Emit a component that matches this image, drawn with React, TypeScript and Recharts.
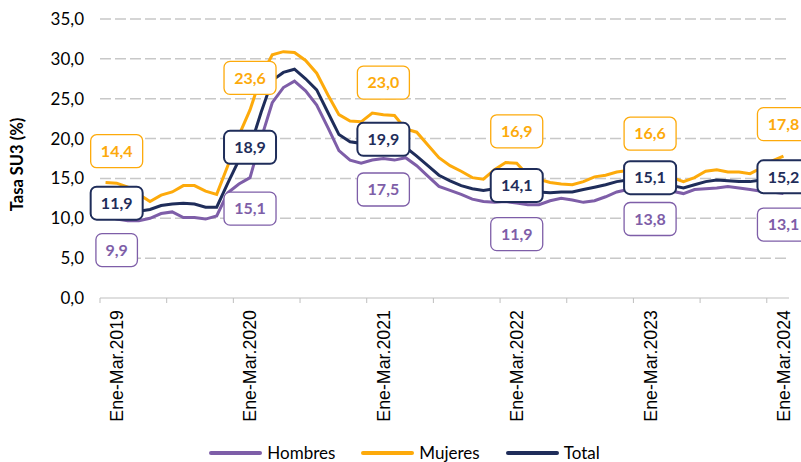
import React from 'react';
import { LineChart, Line, XAxis, YAxis, CartesianGrid, LabelList, Label } from 'recharts';

// Trimestres móviles: índice 0 = Dic-Feb.2019, índice 1 = Ene-Mar.2019 ... índice 61 = Ene-Mar.2024
const TICK_LABELS = ['Ene-Mar.2019', 'Ene-Mar.2020', 'Ene-Mar.2021', 'Ene-Mar.2022', 'Ene-Mar.2023', 'Ene-Mar.2024'];
const LABEL_INDEX = [1, 13, 25, 37, 49, 61];
const BOUNDARY_TICKS = [-0.5, 5.5, 11.5, 17.5, 23.5, 29.5, 35.5, 41.5, 47.5, 53.5, 59.5];
const Y_TICKS = [0, 5, 10, 15, 20, 25, 30, 35];

const HOMBRES = [
    10.3, 9.9, 9.7, 9.7, 10.0, 10.6, 10.8, 10.1, 10.1, 9.9, 10.3, 13.2,
    14.3, 15.1, 20.0, 24.5, 26.4, 27.2, 26.0, 24.2, 21.4, 18.5, 17.3, 16.9,
    17.3, 17.5, 17.3, 17.6, 16.6, 15.3, 14.0, 13.5, 13.0, 12.4, 12.1, 12.0,
    12.1, 11.9, 11.7, 11.7, 12.2, 12.5, 12.3, 12.0, 12.2, 12.7, 13.3, 13.6,
    13.8, 13.8, 13.7, 13.4, 13.1, 13.6, 13.7, 13.8, 14.0, 13.8, 13.6, 13.4,
    13.3, 13.1,
];

const MUJERES = [
    14.5, 14.4, 13.9, 13.0, 12.1, 12.9, 13.3, 14.1, 14.1, 13.4, 13.0, 16.6,
    20.4, 23.6, 27.8, 30.5, 30.9, 30.8, 29.8, 28.2, 25.5, 23.0, 22.2, 22.1,
    23.2, 23.0, 22.9, 21.2, 20.8, 19.2, 17.6, 16.6, 15.9, 15.1, 14.9, 16.1,
    17.0, 16.9, 15.4, 14.9, 14.5, 14.3, 14.2, 14.6, 15.2, 15.4, 15.8, 16.0,
    16.3, 16.6, 16.0, 15.1, 14.6, 15.1, 15.9, 16.1, 15.8, 15.8, 15.6, 16.3,
    17.2, 17.8,
];

const TOTAL = [
    11.9, 11.9, 11.3, 10.9, 11.1, 11.6, 11.8, 11.9, 11.8, 11.4, 11.4, 14.4,
    17.3, 18.9, 23.3, 27.3, 28.3, 28.7, 27.5, 26.1, 23.3, 20.5, 19.6, 19.4,
    19.8, 19.9, 19.7, 18.9, 17.8, 16.6, 15.4, 14.7, 14.1, 13.7, 13.5, 13.7,
    14.0, 14.1, 13.6, 13.3, 13.2, 13.3, 13.3, 13.6, 13.9, 14.2, 14.6, 14.8,
    15.0, 15.1, 14.7, 14.1, 13.8, 14.2, 14.6, 14.8, 14.7, 14.6, 14.6, 14.8,
    15.0, 15.2,
];

const COLORS = {
    hombres: '#7e5ea8',
    mujeres: '#fdaa0b',
    total: '#1f2d5a',
};

const FONT = 'Lato, "Open Sans", sans-serif';

const data = TOTAL.map((_, i) => ({
    idx: i,
    hombres: HOMBRES[i],
    mujeres: MUJERES[i],
    total: TOTAL[i],
}));

const fmt = (v: number) => v.toFixed(1).replace('.', ',');

const AxisTick = (props: any) => {
    const { x, y, payload } = props;
    const v = payload.value as number;
    const labelPos = LABEL_INDEX.indexOf(v);
    if (labelPos === -1) {
        return <line x1={x} y1={y} x2={x} y2={y + 5} stroke="#bfbfbf" strokeWidth={1} />;
    }
    return (
        <text
            transform={`translate(${x},${y + 12}) rotate(-90)`}
            textAnchor="end"
            dy="0.36em"
            fontFamily='"Liberation Sans", Arial, sans-serif'
            fontSize={17.8}
            fill="#000"
        >
            {TICK_LABELS[labelPos]}
        </text>
    );
};

// caja redondeada con el valor; offset vertical respecto al punto
const makeBoxLabel = (color: string, offset: number, borderWidth: number) => (props: any) => {
    const { x, y, value, index } = props;
    if (!LABEL_INDEX.includes(index)) return null;
    const text = fmt(value);
    const w = 10 + text.length * 10.5;
    const h = 33;
    const cy = y + offset;
    return (
        <g>
            <rect
                x={x - w / 2}
                y={cy - h / 2}
                width={w}
                height={h}
                rx={6}
                ry={6}
                fill="#fff"
                stroke={color}
                strokeWidth={borderWidth}
            />
            <text
                x={x}
                y={cy}
                dy="0.36em"
                textAnchor="middle"
                fontFamily={FONT}
                fontWeight={700}
                fontSize={16}
                fill={color}
            >
                {text}
            </text>
        </g>
    );
};

const YTitle = (props: any) => {
    const { viewBox } = props;
    const cy = viewBox.y + viewBox.height / 2 + 6;
    return (
        <text
            transform={`translate(17,${cy}) rotate(-90)`}
            textAnchor="middle"
            dy="0.36em"
            fontFamily={FONT}
            fontWeight={700}
            fontSize={16.5}
            fill="#000"
        >
            Tasa SU3 (%)
        </text>
    );
};

const LEGEND_ITEMS = [
    { key: 'hombres', label: 'Hombres' },
    { key: 'mujeres', label: 'Mujeres' },
    { key: 'total', label: 'Total' },
];

const ChartLegend = () => (
    <div
        style={{
            position: 'absolute',
            left: 0,
            top: 442,
            width: 801,
            display: 'flex',
            justifyContent: 'center',
            gap: 26,
            fontFamily: FONT,
            fontSize: 17,
            lineHeight: '22px',
            color: '#000',
            paddingLeft: 8,
            boxSizing: 'border-box',
        }}
    >
        {LEGEND_ITEMS.map(item => (
            <div key={item.key} style={{ display: 'flex', alignItems: 'center', gap: 5 }}>
                <span
                    style={{
                        display: 'inline-block',
                        width: 53,
                        height: 4,
                        borderRadius: 2,
                        backgroundColor: COLORS[item.key as keyof typeof COLORS],
                    }}
                />
                <span>{item.label}</span>
            </div>
        ))}
    </div>
);

const App: React.FC = () => {
    const lineKeys = ['hombres', 'mujeres', 'total'] as const;
    const labelCfg = {
        hombres: { offset: 31, border: 1.3 },
        mujeres: { offset: -32, border: 1.3 },
        total: { offset: 0, border: 2 },
    };

    return (
        <div style={{ position: 'absolute', left: 0, top: 0, width: 801, height: 462, background: '#fff', overflow: 'hidden' }}>
            <LineChart
                width={801}
                height={462}
                data={data}
                margin={{ top: 19, right: 12, left: 40, bottom: 44 }}
            >
                <CartesianGrid
                    vertical={false}
                    stroke="#c8c8c8"
                    strokeWidth={1.5}
                    strokeDasharray="11 4"
                    horizontalValues={[5, 10, 15, 20, 25, 30, 35]}
                />
                <XAxis
                    dataKey="idx"
                    type="number"
                    domain={[-0.5, 61.5]}
                    ticks={[...BOUNDARY_TICKS, ...LABEL_INDEX]}
                    interval={0}
                    axisLine={{ stroke: '#bfbfbf', strokeWidth: 1.2 }}
                    tickLine={false}
                    tickSize={0}
                    tickMargin={0}
                    height={120}
                    tick={<AxisTick />}
                    allowDataOverflow
                />
                <YAxis
                    domain={[0, 35]}
                    ticks={Y_TICKS}
                    interval={0}
                    width={60}
                    axisLine={false}
                    tickLine={false}
                    tickSize={0}
                    tickMargin={16}
                    tickFormatter={fmt}
                    tick={{ fill: '#000', fontSize: 17, fontFamily: FONT }}
                >
                    <Label content={<YTitle />} />
                </YAxis>
                {lineKeys.map(k => (
                    <Line
                        key={k}
                        type="linear"
                        dataKey={k}
                        stroke={COLORS[k]}
                        strokeWidth={3}
                        dot={false}
                        activeDot={false}
                        isAnimationActive={false}
                    />
                ))}
                {/* series sin trazo, solo para dibujar las cajas encima de todas las líneas */}
                {lineKeys.map(k => (
                    <Line
                        key={`lbl-${k}`}
                        type="linear"
                        dataKey={k}
                        stroke="none"
                        dot={false}
                        activeDot={false}
                        legendType="none"
                        isAnimationActive={false}
                    >
                        <LabelList
                            dataKey={k}
                            content={makeBoxLabel(COLORS[k], labelCfg[k].offset, labelCfg[k].border)}
                        />
                    </Line>
                ))}
            </LineChart>
            <ChartLegend />
        </div>
    );
};

export default App;
